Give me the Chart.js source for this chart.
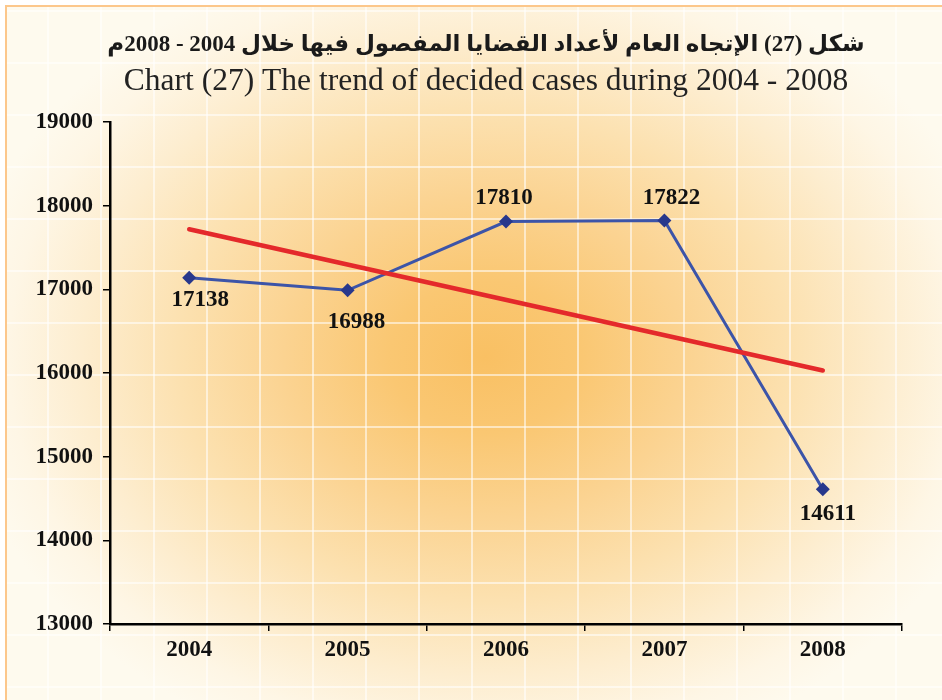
<!DOCTYPE html>
<html lang="ar">
<head>
    <meta charset="UTF-8">
    <title>Chart (27) The trend of decided cases during 2004 - 2008</title>
    <script src="https://cdn.jsdelivr.net/npm/chart.js"></script>
    <style>
        html, body { margin: 0; padding: 0; background: #ffffff; }
        body { width: 942px; height: 700px; position: relative; overflow: hidden; }
        /* Panel: thin orange frame top/left, soft orange glow and a faint white grid */
        .panel {
            position: absolute;
            left: 5px; top: 5px;
            width: 937px; height: 695px;
            box-sizing: border-box;
            border-left: 2px solid #fcc78b;
            border-top: 2px solid #fcc78b;
            background-color: #fefaee;
            background-image:
                linear-gradient(to right, rgba(255,255,255,0.55) 2px, transparent 2px),
                linear-gradient(to bottom, rgba(255,255,255,0.55) 2px, transparent 2px),
                radial-gradient(ellipse 530px 420px at 478px 350px,
                    #f9c063 0%, #fac772 18%, #fbd391 38%, #fce1b0 58%, #fdedcf 76%, #fef6e5 90%, #fefaee 100%);
            background-size: 53px 100%, 100% 52px, 100% 100%;
            background-position: 40px 0, 0 3px, 0 0;
        }
        canvas { position: absolute; left: 0; top: 0; }
    </style>
</head>
<body>
    <div class="panel"></div>
    <canvas id="trendChart" width="942" height="700"></canvas>

    <script>
        // Data
        const years = ['2004', '2005', '2006', '2007', '2008'];
        const decidedCases = [17138, 16988, 17810, 17822, 14611];
        // General trend line (only its two end points are drawn, straight between)
        const trendLine = [17718, null, null, null, 16030];

        const titleAr = 'شكل (27) الإتجاه العام لأعداد القضايا المفصول فيها خلال 2004 - 2008م';
        const titleEn = 'Chart (27) The trend of decided cases during 2004 - 2008';

        const serif = '"Liberation Serif", "Times New Roman", serif';

        // Label offsets (dx, dy) from each point
        const labelDx = [11, 9, -2, 7, 5];
        const labelDy = [22, 32, -24, -22, 25];

        // Two title lines, centred a bit right of the page middle
        const titles = {
            id: 'titles',
            afterDraw(chart) {
                const ctx = chart.ctx;
                ctx.save();
                ctx.textAlign = 'center';
                ctx.textBaseline = 'middle';
                ctx.fillStyle = '#1a1a1a';
                ctx.font = 'bold 23px ' + serif + ', "DejaVu Sans"';
                ctx.fillText(titleAr, 486, 45);
                ctx.fillStyle = '#222222';
                ctx.font = '31.5px ' + serif;
                ctx.fillText(titleEn, 486, 82);
                ctx.restore();
            }
        };

        // Draw the value above / below each point
        const valueLabels = {
            id: 'valueLabels',
            afterDatasetsDraw(chart) {
                const ctx = chart.ctx;
                const meta = chart.getDatasetMeta(1);
                ctx.save();
                ctx.font = 'bold 23px ' + serif;
                ctx.fillStyle = '#111111';
                ctx.textAlign = 'center';
                ctx.textBaseline = 'middle';
                meta.data.forEach((pt, i) => {
                    ctx.fillText(String(decidedCases[i]), pt.x + labelDx[i], pt.y + labelDy[i]);
                });
                ctx.restore();
            }
        };

        new Chart(document.getElementById('trendChart'), {
            type: 'line',
            data: {
                labels: years,
                datasets: [{
                    label: 'Trend',
                    data: trendLine,
                    borderColor: '#e4292b',
                    borderWidth: 4.5,
                    borderCapStyle: 'round',
                    pointRadius: 0,
                    spanGaps: true,
                    tension: 0,
                    order: 0
                }, {
                    label: 'Decided cases',
                    data: decidedCases,
                    borderColor: '#3c54a8',
                    borderWidth: 3,
                    pointStyle: 'rectRot',
                    pointRadius: 7,
                    pointBackgroundColor: '#28388c',
                    pointBorderColor: '#28388c',
                    pointBorderWidth: 0,
                    tension: 0,
                    order: 1
                }]
            },
            options: {
                responsive: false,
                animation: false,
                devicePixelRatio: 1,
                layout: { padding: { left: 0, right: 40, top: 122, bottom: 0 } },
                plugins: {
                    legend: { display: false },
                    tooltip: { enabled: false },
                    title: { display: false }
                },
                scales: {
                    x: {
                        offset: true,
                        afterFit(scale) { scale.height = 76; },
                        border: { display: true, color: '#000000', width: 2.5 },
                        grid: { offset: true, drawOnChartArea: false, drawTicks: true, tickLength: 7, color: '#000000', lineWidth: 1.5 },
                        ticks: {
                            color: '#111111',
                            padding: 5,
                            font: { family: serif, size: 23, weight: 'bold' }
                        }
                    },
                    y: {
                        min: 13000,
                        max: 19000,
                        afterFit(scale) { scale.width = 110; },
                        border: { display: true, color: '#000000', width: 2.5 },
                        grid: { drawOnChartArea: false, drawTicks: true, tickLength: 7, color: '#000000', lineWidth: 1.5 },
                        ticks: {
                            stepSize: 1000,
                            color: '#111111',
                            padding: 10,
                            font: { family: serif, size: 23, weight: 'bold' },
                            callback: (value) => String(value)
                        }
                    }
                }
            },
            plugins: [valueLabels, titles]
        });
    </script>
</body>
</html>
